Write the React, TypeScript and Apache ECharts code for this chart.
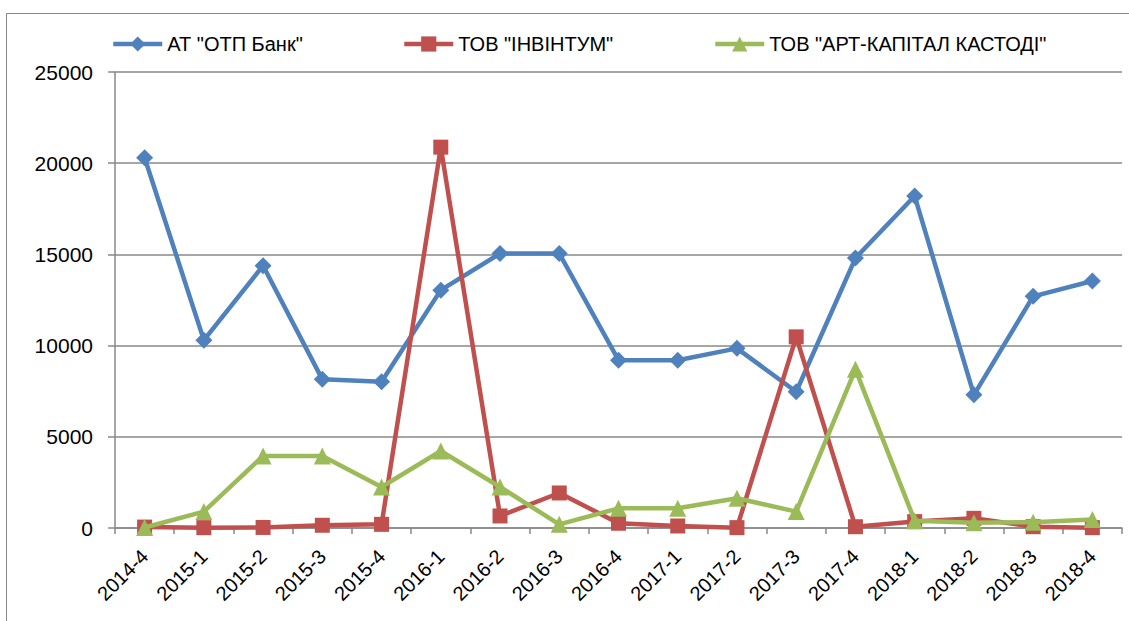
import React, { useEffect, useRef } from "react";
import * as echarts from "echarts";

const categories = [
  "2014-4", "2015-1", "2015-2", "2015-3", "2015-4",
  "2016-1", "2016-2", "2016-3", "2016-4",
  "2017-1", "2017-2", "2017-3", "2017-4",
  "2018-1", "2018-2", "2018-3", "2018-4",
];

const seriesNames = ["АТ \"ОТП Банк\"", "ТОВ \"ІНВІНТУМ\"", "ТОВ \"АРТ-КАПІТАЛ КАСТОДІ\""];

const otpBank = [20300, 10300, 14380, 8150, 8020, 13040, 15050, 15050, 9200, 9200, 9850, 7470, 14800, 18200, 7300, 12700, 13540];
const invintum = [50, 20, 30, 150, 200, 20880, 660, 1920, 260, 110, 20, 10480, 70, 350, 530, 70, 20];
const artKapital = [30, 900, 3950, 3950, 2250, 4220, 2250, 200, 1080, 1080, 1630, 900, 8700, 400, 290, 320, 470];

const yTicks = { min: 0, max: 25000, interval: 5000 };

const colors = ["#4F81BD", "#C0504D", "#9BBB59"];
const FONT = "'Liberation Sans', Arial, sans-serif";

export default function App() {
  const ref = useRef<HTMLDivElement>(null);
  useEffect(() => {
    document.body.style.margin = "0";
    if (!ref.current) return;
    const chart = echarts.init(ref.current, undefined, { renderer: "svg" });
    const gray = "#898989";
    const symbols = ["diamond", "rect", "triangle"];
    const sizes = [17, 15, 17];
    const datas = [otpBank, invintum, artKapital];
    const legendLeft = [106, 397, 708];
    chart.setOption({
      animation: false,
      backgroundColor: "#ffffff",
      textStyle: { fontFamily: FONT },
      graphic: [
        {
          type: "rect",
          shape: { x: 6.5, y: 13.5, width: 1200, height: 700 },
          style: { fill: "none", stroke: "#878787", lineWidth: 1 },
          silent: true,
        },
      ],
      legend: seriesNames.map((n, i) => ({
        data: [n],
        left: legendLeft[i],
        top: 29,
        itemWidth: 49,
        itemHeight: 19,
        itemGap: 0,
        lineStyle: { width: 4.5 },
        textStyle: { fontSize: 20, color: "#000", fontFamily: FONT },
        selectedMode: false,
      })),
      grid: { left: 115, right: 7, top: 72, bottom: 93, containLabel: false },
      xAxis: {
        type: "category",
        data: categories,
        boundaryGap: true,
        axisLine: { show: true, lineStyle: { color: gray, width: 1.5 } },
        axisTick: { show: true, length: 6, interval: 0, lineStyle: { color: gray, width: 1.5 } },
        axisLabel: { interval: 0, rotate: 45, fontSize: 20, color: "#000", margin: 25, fontFamily: FONT },
        splitLine: { show: false },
      },
      yAxis: {
        type: "value",
        min: yTicks.min,
        max: yTicks.max,
        interval: yTicks.interval,
        axisLine: { show: true, lineStyle: { color: gray, width: 1.5 } },
        axisTick: { show: true, length: 7, lineStyle: { color: gray, width: 1.5 } },
        axisLabel: {
          fontSize: 21,
          color: "#000",
          margin: 22,
          fontFamily: FONT,
          formatter: (v: number) => String(v),
        },
        splitLine: { show: true, lineStyle: { color: gray, width: 1.5 } },
      },
      series: seriesNames.map((n, i) => ({
        name: n,
        type: "line",
        data: datas[i],
        symbol: symbols[i],
        symbolSize: sizes[i],
        showAllSymbol: true,
        lineStyle: { color: colors[i], width: 4.5 },
        itemStyle: { color: colors[i] },
        z: 2 + i,
      })),
    });
    return () => chart.dispose();
  }, []);
  return <div ref={ref} style={{ width: 1129, height: 621 }} />;
}
